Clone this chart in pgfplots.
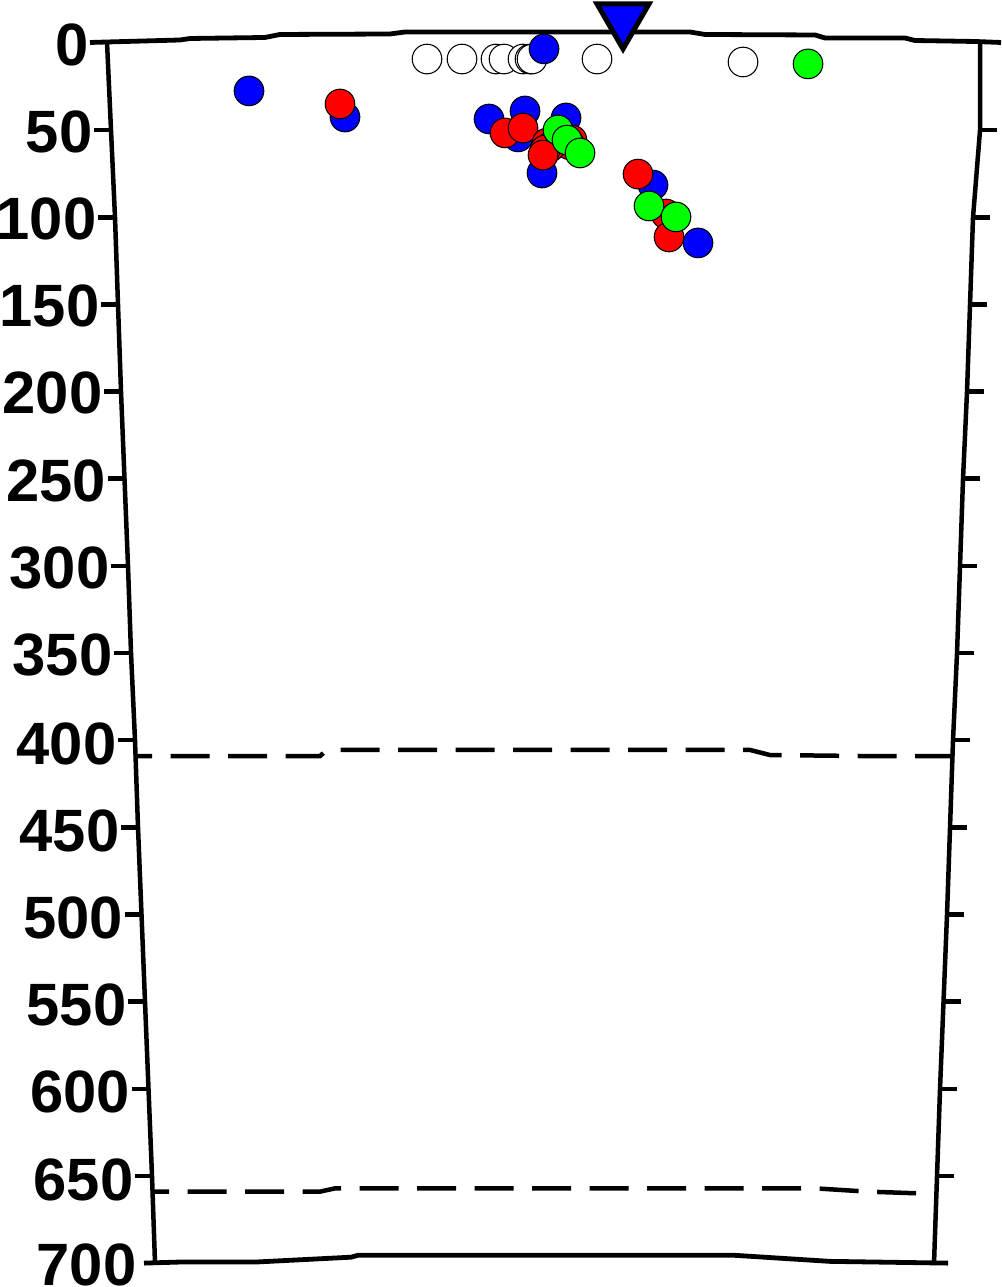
\documentclass[border=0pt]{standalone}
\usepackage{fontspec}
\setmainfont{Liberation Sans}
\usepackage{pgfplots}
\pgfplotsset{compat=1.18}
\begin{document}
\begin{tikzpicture}
\begin{axis}[
  width=100.1mm, height=128.7mm, scale only axis,
  xmin=0, xmax=1001, ymin=-24.67, ymax=713.71, y dir=reverse,
  hide axis, clip=false, unbounded coords=jump,
]
\coordinate (bl) at (axis cs:0,713.71);
\coordinate (tr) at (axis cs:1001,-24.67);
% frame: top
\addplot[black, line width=0.48mm, line join=round, mark=none] coordinates {
(90,-0.29) (107,-0.57) (180,-1.72) (190,-2.58) (265,-3.16) (280,-4.88) (390,-5.16) (405,-6.31) (690,-6.31) (705,-4.88) (815,-4.59) (825,-2.87) (905,-2.87) (915,-1.43) (975,-0.86) (1001,-0.29)};
% bottom
\addplot[black, line width=0.48mm, line join=round, mark=none] coordinates {
(144,700) (179,699.4) (255,699.4) (351,696.6) (358,695.5) (734,695.5) (830,699.0) (948,700)};
% left edge
\addplot[black, line width=0.45mm, line join=round, mark=none] coordinates {
(107,-0.6) (111,50) (115,100) (118,150) (121,200) (124.5,250) (128,300) (131,350) (135,400) (138,450) (141.5,500) (145,550) (148.5,600) (152,650) (155,700)};
% right edge
\addplot[black, line width=0.45mm, line join=round, mark=none] coordinates {
(980,-0.9) (980,50) (973,100) (970,150) (967,200) (963,250) (960,300) (957,350) (953,400) (950,450) (947,500) (943.5,550) (940,600) (937,650) (934,700)};
% ticks
\addplot[black, line width=0.45mm, mark=none] coordinates {
(94,50)(111,50) (nan,nan)
(98,100)(115,100) (nan,nan)
(101,150)(118,150) (nan,nan)
(104,200)(121,200) (nan,nan)
(107.5,250)(124.5,250) (nan,nan)
(111,300)(128,300) (nan,nan)
(114,350)(131,350) (nan,nan)
(118,400)(135,400) (nan,nan)
(121,450)(138,450) (nan,nan)
(124.5,500)(141.5,500) (nan,nan)
(128,550)(145,550) (nan,nan)
(131.5,600)(148.5,600) (nan,nan)
(135,650)(152,650) (nan,nan)
(980,50)(997,50) (nan,nan)
(973,100)(990,100) (nan,nan)
(970,150)(987,150) (nan,nan)
(967,200)(984,200) (nan,nan)
(963,250)(980,250) (nan,nan)
(960,300)(977,300) (nan,nan)
(957,350)(974,350) (nan,nan)
(953,400)(970,400) (nan,nan)
(950,450)(967,450) (nan,nan)
(947,500)(964,500) (nan,nan)
(943.5,550)(960.5,550) (nan,nan)
(940,600)(957,600) (nan,nan)
(937,650)(954,650)};
% dashed horizons
\addplot[black, line width=0.45mm, dash pattern=on 3.9mm off 1.85mm, dash phase=2.2mm, mark=none] coordinates {
(135,409.1) (320,409.1) (327,405.6) (750,405.6) (770,408.5) (865,409.1) (953,409.1)};
\addplot[black, line width=0.45mm, dash pattern=on 3.9mm off 1.85mm, dash phase=2.2mm, mark=none] coordinates {
(152,659.0) (320,659.0) (335,657.1) (815,657.1) (868,659.0) (920,660.0)};
% labels
\tikzset{lab/.style={anchor=east, inner sep=0pt, font=\bfseries\fontsize{17}{17}\selectfont}}
\node[lab] at (axis cs:89,1) {0};
\node[lab] at (axis cs:93,51) {50};
\node[lab] at (axis cs:97,101) {100};
\node[lab] at (axis cs:100,151) {150};
\node[lab] at (axis cs:103,201) {200};
\node[lab] at (axis cs:106.5,251) {250};
\node[lab] at (axis cs:110,301) {300};
\node[lab] at (axis cs:113,351) {350};
\node[lab] at (axis cs:117,402) {400};
\node[lab] at (axis cs:120,452) {450};
\node[lab] at (axis cs:123.5,502) {500};
\node[lab] at (axis cs:127,552) {550};
\node[lab] at (axis cs:130.5,602) {600};
\node[lab] at (axis cs:134,652) {650};
\node[lab] at (axis cs:137,701) {700};
% open circles
\addplot[only marks, mark=*, mark size=1.48mm, mark options={fill=white, draw=black, line width=0.3pt}] coordinates {
(427,9.2) (462,9.2) (496,9.2) (504,9.2) (523,9.2) (530,9.2) (532,9.2) (597,9.2) (743,10.9)};
% blue
\addplot[only marks, mark=*, mark size=1.48mm, mark options={fill=blue, draw=black, line width=0.3pt}] coordinates {
(249,27.5) (345,42.5) (489,43.6) (525,39.0) (566,43.0) (518,53.9) (542,74.6) (544,3.4) (653,81.5) (698,114.7)};
% red
\addplot[only marks, mark=*, mark size=1.48mm, mark options={fill=red, draw=black, line width=0.3pt}] coordinates {
(340,35.0) (505,51.6) (523,48.8) (572,55.7) (570,58.5) (547,57.4) (550,59.7) (545,61.4) (543,64.3) (638,75.2) (666,98.1) (669,111.3)};
% green
\addplot[only marks, mark=*, mark size=1.48mm, mark options={fill=green, draw=black, line width=0.3pt}] coordinates {
(808,12.0) (558,49.9) (567,55.7) (580,63.1) (649,93.5) (676,99.8)};
% triangle
\addplot[only marks, mark=triangle*, mark size=3.0mm, mark options={rotate=180, fill=blue, draw=black, line width=0.5mm, miter limit=10}] coordinates {(623,-13.8)};
\end{axis}
\pgfresetboundingbox
\path (bl) rectangle (tr);
\end{tikzpicture}
\end{document}
